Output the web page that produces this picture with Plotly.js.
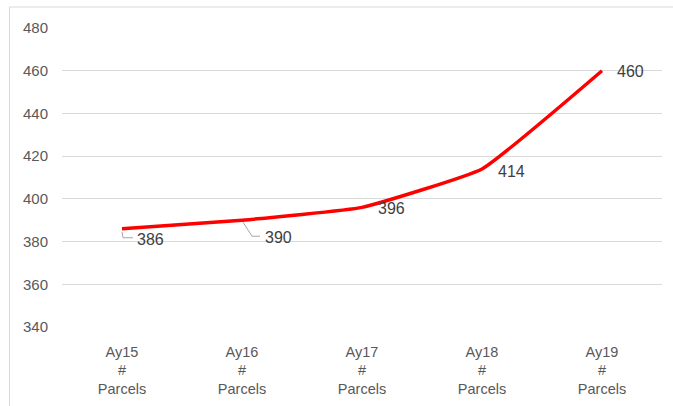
<!DOCTYPE html>
<html>
<head>
<meta charset="utf-8">
<script src="https://cdn.plot.ly/plotly-3.0.1.min.js"></script>
<style>html,body{margin:0;padding:0;background:#fff;}#chart{width:673px;height:406px;}</style>
</head>
<body>
<div id="chart"></div>
<script>
var categories = ["Ay15", "Ay16", "Ay17", "Ay18", "Ay19"];
var parcels = [386, 390, 396, 414, 460];
var yTicks = [340, 360, 380, 400, 420, 440, 460, 480];

var tickText = categories.map(function (c) { return c + "<br>#<br>Parcels"; });

var trace = {
  x: categories,
  y: parcels,
  type: "scatter",
  mode: "lines",
  line: { color: "#FF0000", width: 3.5, shape: "spline", smoothing: 0.35 },
  hoverinfo: "skip"
};

var labelShift = [[13, -11], [21, -17], [14, -1], [14, -3], [13, -1]];
var annotations = parcels.map(function (v, i) {
  return {
    x: categories[i], y: v, xref: "x", yref: "y",
    text: String(v), showarrow: false,
    xanchor: "left", yanchor: "middle",
    xshift: labelShift[i][0], yshift: labelShift[i][1],
    font: { family: "Liberation Sans, Arial, sans-serif", size: 16, color: "#404040" }
  };
});

var shapes = [
  { type: "path", xref: "paper", yref: "paper",
    path: "M-0.0875,-0.4 L-0.0875,1.0702 L1.1,1.0702",
    line: { color: "#d9d9d9", width: 1 } },
  { type: "path", xref: "x", yref: "y", xsizemode: "pixel", ysizemode: "pixel",
    xanchor: categories[0], yanchor: parcels[0],
    path: "M0,-3 L1,-9 L11,-9", line: { color: "#a6a6a6", width: 1 } },
  { type: "path", xref: "x", yref: "y", xsizemode: "pixel", ysizemode: "pixel",
    xanchor: categories[1], yanchor: parcels[1],
    path: "M1,-2 L10,-16 L18,-16", line: { color: "#a6a6a6", width: 1 } }
];

var layout = {
  width: 673, height: 406,
  margin: { l: 62, r: 11, t: 28, b: 79 },
  paper_bgcolor: "#ffffff", plot_bgcolor: "#ffffff",
  showlegend: false,
  font: { family: "Liberation Sans, Arial, sans-serif", color: "#595959" },
  xaxis: {
    type: "category",
    tickvals: categories, ticktext: tickText,
    tickfont: { size: 14.5, color: "#595959" },
    showgrid: false, zeroline: false, showline: false,
    ticks: "", ticklabelstandoff: 14,
    range: [-0.5, 4.5], fixedrange: true
  },
  yaxis: {
    range: [340, 480], tickvals: yTicks,
    tickfont: { size: 15, color: "#595959" },
    showgrid: true, gridcolor: "#d9d9d9", gridwidth: 1,
    zeroline: false, showline: false, ticks: "",
    ticklabelstandoff: 13, fixedrange: true
  },
  annotations: annotations,
  shapes: shapes
};

Plotly.newPlot("chart", [trace], layout, { displayModeBar: false, staticPlot: true });
</script>
</body>
</html>
